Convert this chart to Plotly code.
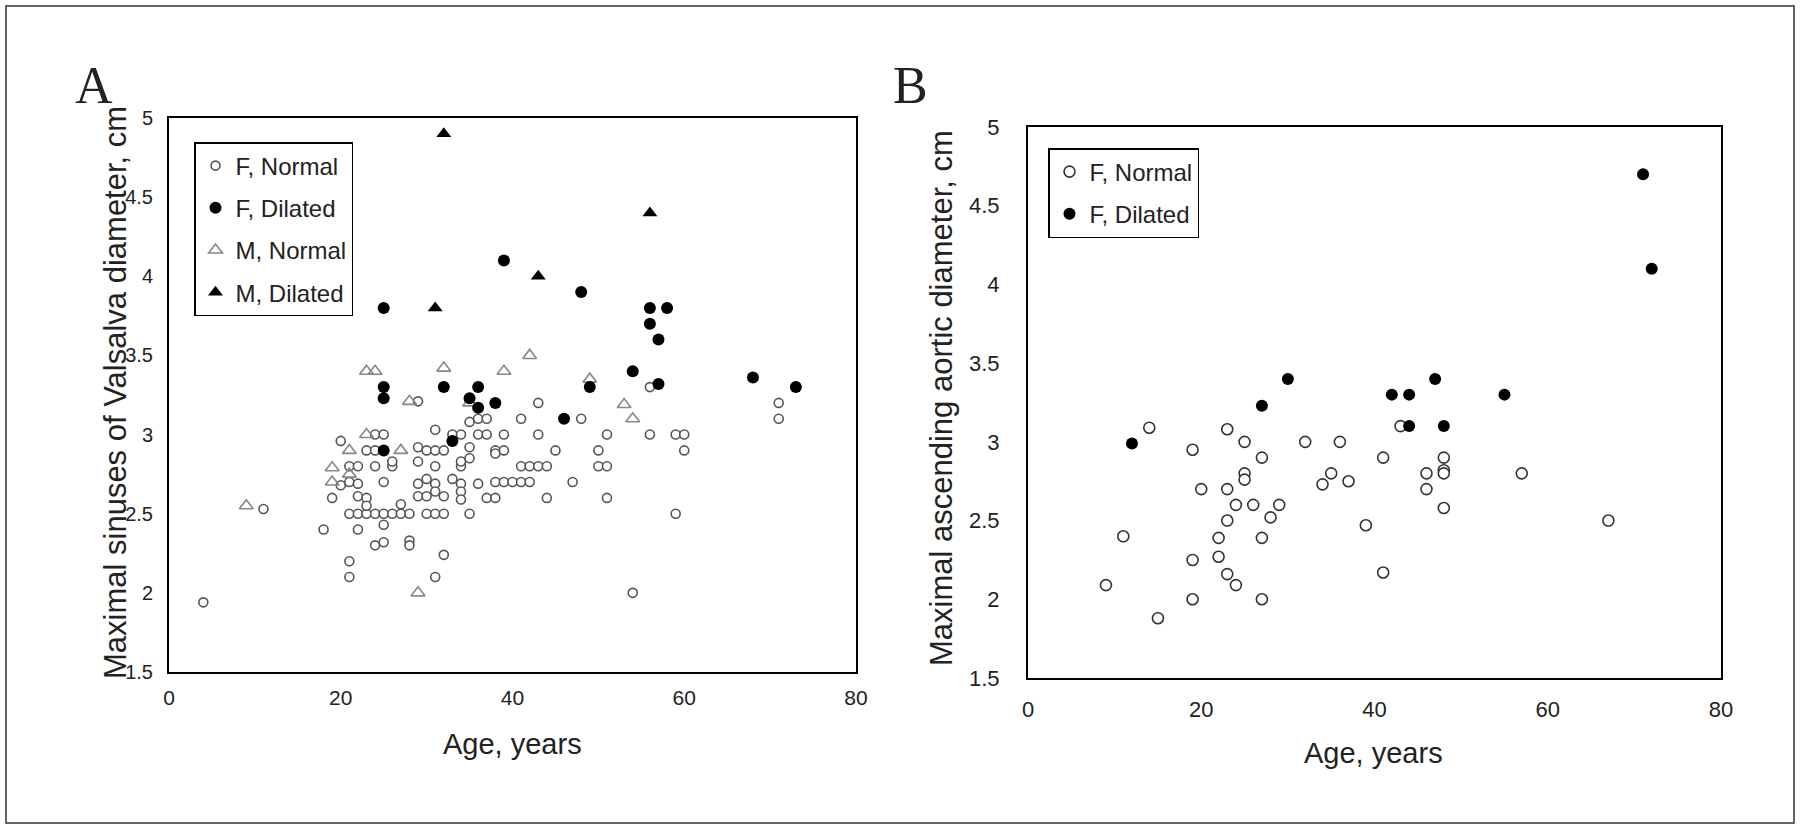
import plotly.graph_objects as go

# ---- Panel A : sinuses of Valsalva ----
a_f_normal_age = [4, 11, 18, 19, 20, 20, 21, 22, 21, 22, 21, 22, 23, 24, 25, 26, 27, 28, 30, 31, 32, 35,
                  21, 21, 22, 22, 23, 23, 23, 24, 24, 25, 24, 24, 25, 25, 25, 26, 26, 27, 28, 28,
                  29, 29, 29, 29, 29, 30, 30, 30, 31, 31, 31, 31, 31, 31, 32, 32, 32,
                  33, 33, 34, 34, 34, 34, 34, 34, 35, 35, 35, 36, 36, 36, 37, 37, 37,
                  38, 38, 38, 38, 39, 39, 39, 40, 41, 41, 41, 42, 42, 43, 43, 43, 44, 44,
                  45, 47, 48, 50, 50, 51, 51, 51, 54, 56, 56, 59, 59, 60, 60, 71, 71]
a_f_normal_val = [1.94, 2.53, 2.40, 2.60, 2.68, 2.96, 2.70, 2.69, 2.50, 2.50, 2.80, 2.80, 2.50, 2.50, 2.50, 2.50, 2.50, 2.50, 2.50, 2.50, 2.50, 2.50,
                  2.20, 2.10, 2.40, 2.61, 2.60, 2.55, 2.90, 2.90, 3.00, 3.00, 2.80, 2.30, 2.32, 2.43, 2.70, 2.80, 2.83, 2.56, 2.33, 2.30,
                  3.21, 2.92, 2.83, 2.69, 2.61, 2.90, 2.72, 2.61, 3.03, 2.90, 2.80, 2.69, 2.64, 2.10, 2.90, 2.61, 2.24,
                  3.00, 2.72, 3.00, 2.80, 2.83, 2.69, 2.64, 2.59, 3.08, 2.92, 2.85, 3.10, 3.00, 2.69, 3.10, 3.00, 2.60,
                  2.90, 2.88, 2.70, 2.60, 3.00, 2.90, 2.70, 2.70, 3.10, 2.80, 2.70, 2.80, 2.70, 3.20, 3.00, 2.80, 2.80, 2.60,
                  2.90, 2.70, 3.10, 2.90, 2.80, 3.00, 2.80, 2.60, 2.00, 3.30, 3.00, 3.00, 2.50, 3.00, 2.90, 3.20, 3.10]
a_f_dilated_age = [25, 25, 25, 25, 32, 33, 35, 36, 36, 38, 39, 46, 48, 49, 54, 56, 56, 57, 57, 58, 68, 73]
a_f_dilated_val = [3.80, 3.30, 3.23, 2.90, 3.30, 2.96, 3.23, 3.30, 3.17, 3.20, 4.10, 3.10, 3.90, 3.30, 3.40, 3.80, 3.70, 3.60, 3.32, 3.80, 3.36, 3.30]
a_m_normal_age = [9, 19, 19, 21, 21, 23, 24, 23, 27, 28, 29, 32, 35, 39, 42, 49, 53, 54]
a_m_normal_val = [2.55, 2.79, 2.70, 2.90, 2.75, 3.40, 3.40, 3.00, 2.90, 3.21, 2.00, 3.42, 3.20, 3.40, 3.50, 3.35, 3.19, 3.10]
a_m_dilated_age = [31, 32, 43, 56]
a_m_dilated_val = [3.80, 4.90, 4.00, 4.40]

# ---- Panel B : ascending aorta ----
b_f_normal_age = [9, 11, 14, 15, 19, 19, 19, 20, 22, 22, 23, 23, 23, 23, 24, 24, 25, 25, 25, 26,
                  27, 27, 27, 28, 29, 32, 34, 35, 36, 37, 39, 41, 41, 43, 46, 46, 48, 48, 48, 48, 57, 67]
b_f_normal_val = [2.09, 2.40, 3.09, 1.88, 2.95, 2.25, 2.00, 2.70, 2.39, 2.27, 3.08, 2.70, 2.50, 2.16, 2.60, 2.09, 3.00, 2.80, 2.76, 2.60,
                  2.90, 2.39, 2.00, 2.52, 2.60, 3.00, 2.73, 2.80, 3.00, 2.75, 2.47, 2.90, 2.17, 3.10, 2.80, 2.70, 2.90, 2.82, 2.80, 2.58, 2.80, 2.50]
b_f_dilated_age = [12, 27, 30, 42, 44, 44, 47, 48, 55, 71, 72]
b_f_dilated_val = [2.99, 3.23, 3.40, 3.30, 3.30, 3.10, 3.40, 3.10, 3.30, 4.70, 4.10]

x_ticks = [0, 20, 40, 60, 80]
y_ticks = [1.5, 2, 2.5, 3, 3.5, 4, 4.5, 5]
y_tick_text = ["1.5", "2", "2.5", "3", "3.5", "4", "4.5", "5"]

W, H = 1800, 829
font = "Arial, Liberation Sans, sans-serif"
serif = "Liberation Serif, Times New Roman, serif"

fig = go.Figure()

# panel A traces
fig.add_trace(go.Scatter(x=a_f_normal_age, y=a_f_normal_val, mode="markers", name="F, Normal",
                         marker=dict(symbol="circle", size=9, color="white", line=dict(color="#555555", width=1.6)),
                         xaxis="x", yaxis="y", legend="legend", legendgroup="a1", legendrank=1))
fig.add_trace(go.Scatter(x=a_m_normal_age, y=a_m_normal_val, mode="markers", name="M, Normal",
                         marker=dict(symbol="triangle-up", size=12, color="rgba(255,255,255,0)", line=dict(color="#888888", width=1.6)),
                         xaxis="x", yaxis="y", legend="legend", legendgroup="a3", legendrank=3))
fig.add_trace(go.Scatter(x=a_f_dilated_age, y=a_f_dilated_val, mode="markers", name="F, Dilated",
                         marker=dict(symbol="circle", size=12, color="black"),
                         xaxis="x", yaxis="y", legend="legend", legendgroup="a2", legendrank=2))
fig.add_trace(go.Scatter(x=a_m_dilated_age, y=a_m_dilated_val, mode="markers", name="M, Dilated",
                         marker=dict(symbol="triangle-up", size=13, color="black"),
                         xaxis="x", yaxis="y", legend="legend", legendgroup="a4", legendrank=4))

# panel B traces
fig.add_trace(go.Scatter(x=b_f_normal_age, y=b_f_normal_val, mode="markers", name="F, Normal",
                         marker=dict(symbol="circle", size=11, color="white", line=dict(color="#333333", width=1.6)),
                         xaxis="x2", yaxis="y2", legend="legend2", legendgroup="b1", legendrank=1))
fig.add_trace(go.Scatter(x=b_f_dilated_age, y=b_f_dilated_val, mode="markers", name="F, Dilated",
                         marker=dict(symbol="circle", size=12, color="black"),
                         xaxis="x2", yaxis="y2", legend="legend2", legendgroup="b2", legendrank=2))

ax_common = dict(showgrid=False, zeroline=False, showline=True, linecolor="black", linewidth=2,
                 mirror=True, ticks="", automargin=False)

def tick_font(size):
    return dict(family=font, size=size, color="#222222")

legend_style = dict(xanchor="left", yanchor="top", bgcolor="white", bordercolor="black", borderwidth=1.5,
                    font=dict(family=font, size=24, color="#222222"), tracegroupgap=8, itemwidth=30)

fig.update_layout(
    width=W, height=H,
    margin=dict(l=0, r=0, t=0, b=0, pad=0, autoexpand=False),
    paper_bgcolor="white", plot_bgcolor="white",
    showlegend=True,
    xaxis=dict(domain=[169 / W, 856 / W], range=[0, 80], tickvals=x_ticks, anchor="y",
               ticklabelstandoff=6, tickfont=tick_font(21), **ax_common),
    yaxis=dict(domain=[1 - 672 / H, 1 - 118 / H], range=[1.5, 5], tickvals=y_ticks, ticktext=y_tick_text,
               anchor="x", ticklabelstandoff=10, tickfont=tick_font(20), **ax_common),
    xaxis2=dict(domain=[1028 / W, 1721 / W], range=[0, 80], tickvals=x_ticks, anchor="y2",
                ticklabelstandoff=11, tickfont=tick_font(22), **ax_common),
    yaxis2=dict(domain=[1 - 678 / H, 1 - 127 / H], range=[1.5, 5], tickvals=y_ticks, ticktext=y_tick_text,
                anchor="x2", ticklabelstandoff=22, tickfont=tick_font(22), **ax_common),
    legend=dict(x=194 / W, y=1 - 142 / H, **legend_style),
    legend2=dict(x=1048 / W, y=1 - 148 / H, **legend_style),
)

# panel letters and axis titles
notes = [
    dict(text="A", x=94 / W, y=1 - 85 / H, size=52, fam=serif, angle=0),
    dict(text="B", x=910 / W, y=1 - 85 / H, size=52, fam=serif, angle=0),
    dict(text="Age, years", x=512 / W, y=1 - 744 / H, size=29, fam=font, angle=0),
    dict(text="Age, years", x=1373 / W, y=1 - 753 / H, size=29, fam=font, angle=0),
    dict(text="Maximal sinuses of Valsalva diameter, cm", x=115 / W, y=1 - 393 / H, size=31, fam=font, angle=-90),
    dict(text="Maximal ascending aortic diameter, cm", x=941 / W, y=1 - 398 / H, size=31, fam=font, angle=-90),
]
for n in notes:
    fig.add_annotation(text=n["text"], x=n["x"], y=n["y"], xref="paper", yref="paper",
                       xanchor="center", yanchor="middle", showarrow=False, textangle=n["angle"],
                       font=dict(family=n["fam"], size=n["size"], color="#222222"))

# outer frame
fig.add_shape(type="rect", xref="paper", yref="paper", x0=6 / W, y0=1 - 823 / H, x1=1794 / W, y1=1 - 6 / H,
              line=dict(color="#333333", width=1.5))

# the page body has a default 8px margin; drop it so the 1800x829 figure fills the window
fig.write_html("out.html", config={"displayModeBar": False},
               post_script="document.body.style.margin='0';document.body.style.overflow='hidden';")
